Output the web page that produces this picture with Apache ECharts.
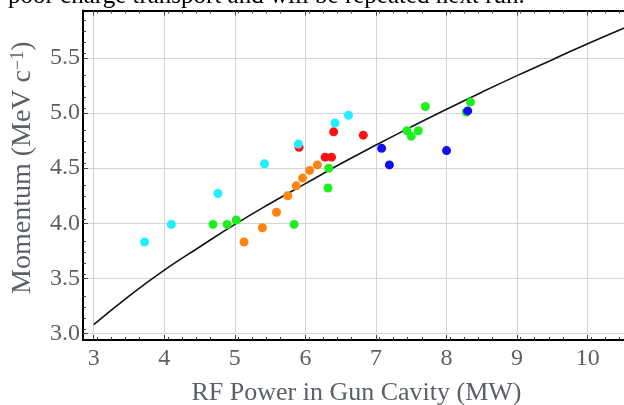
<!DOCTYPE html>
<html>
<head>
<meta charset="utf-8">
<script src="https://cdn.jsdelivr.net/npm/echarts@6/dist/echarts.min.js"></script>
<style>html,body{margin:0;padding:0;background:#fff;}#c{width:624px;height:405px;}</style>
</head>
<body>
<div id="c"></div>
<script>
// Data: [RF power (MW), momentum (MeV/c)]
var cyanPts = [[3.72,3.83],[4.10,3.99],[4.76,4.27],[5.42,4.54],[5.90,4.72],[6.42,4.91],[6.61,4.98]];
var greenPts = [[4.69,3.99],[4.89,3.99],[5.02,4.03],[5.84,3.99],[6.32,4.32],[6.33,4.50],[7.44,4.84],[7.50,4.79],[7.60,4.84],[7.70,5.06],[8.28,5.01],[8.34,5.10]];
var orangePts = [[5.13,3.83],[5.39,3.96],[5.59,4.10],[5.75,4.25],[5.87,4.34],[5.96,4.41],[6.06,4.48],[6.17,4.53]];
var redPts = [[5.91,4.69],[6.28,4.60],[6.37,4.60],[6.40,4.83],[6.82,4.80]];
var bluePts = [[7.08,4.68],[7.19,4.53],[8.00,4.66],[8.30,5.02]];
// Fit curve
var curvePts = [[3.0,3.08],[3.5,3.34],[4.0,3.575],[4.5,3.785],[5.0,3.99],[5.5,4.18],[6.0,4.36],[6.5,4.54],[7.0,4.71],[7.5,4.875],[8.0,5.035],[8.5,5.19],[9.0,5.34],[9.5,5.485],[10.0,5.63],[10.6,5.795]];
var xTicks = [3,4,5,6,7,8,9,10];
var yTicks = [3.0,3.5,4.0,4.5,5.0,5.5];
var caption = 'poor charge transport and will be repeated next run.';

var chart = echarts.init(document.getElementById('c'), null, {renderer:'canvas'});
var labelColor = '#5b6068';
var serif = '"Liberation Serif","Times New Roman",serif';
var tickStyle = {color:'#444',width:1};
var xMain = {
  type:'value', min:2.848, max:10.6, position:'bottom', interval:1,
  name:'RF Power in Gun Cavity (MW)', nameLocation:'middle', nameGap:40,
  nameTextStyle:{fontFamily:serif,fontSize:26,color:labelColor},
  axisLine:{show:true,onZero:false,lineStyle:{color:'#000',width:2}},
  axisLabel:{fontFamily:serif,fontSize:24,color:labelColor,margin:7,
    customValues:xTicks, formatter:function(v){return String(v);}},
  axisTick:{show:true,inside:true,length:5,customValues:xTicks,lineStyle:tickStyle},
  minorTick:{show:true,splitNumber:5,length:3,lineStyle:tickStyle},
  splitLine:{show:true,lineStyle:{color:'#d4d4d4',width:1}}
};
var xTop = {
  type:'value', min:2.848, max:10.6, position:'top', interval:1,
  axisLine:{show:true,onZero:false,lineStyle:{color:'#000',width:2}},
  axisLabel:{show:false},
  axisTick:{show:true,inside:true,length:5,customValues:xTicks,lineStyle:tickStyle},
  minorTick:{show:true,splitNumber:5,length:3,lineStyle:tickStyle},
  splitLine:{show:false}
};
var yMain = {
  type:'value', min:2.941, max:5.931, position:'left', interval:0.5,
  name:'{a|Momentum (MeV c}{s|−1}{a|)}', nameLocation:'middle', nameGap:46,
  nameTextStyle:{fontFamily:serif,fontSize:28,color:labelColor,padding:[0,0,0,15],
    rich:{a:{fontFamily:serif,fontSize:28,color:labelColor},
          s:{fontFamily:serif,fontSize:18,color:labelColor,verticalAlign:'bottom',padding:[0,0,10,0]}}},
  axisLine:{show:true,onZero:false,lineStyle:{color:'#000',width:2}},
  axisLabel:{fontFamily:serif,fontSize:24,color:labelColor,margin:3,
    customValues:yTicks, formatter:function(v){return v.toFixed(1);}},
  axisTick:{show:true,inside:true,length:5,customValues:yTicks,lineStyle:tickStyle},
  minorTick:{show:true,splitNumber:5,length:3,lineStyle:tickStyle},
  splitLine:{show:true,lineStyle:{color:'#d4d4d4',width:1}}
};

function sc(name,data,color,z){
  return {name:name,type:'scatter',data:data,symbol:'circle',symbolSize:9,
    itemStyle:{color:color,opacity:1},z:z,silent:true};
}
chart.setOption({
  animation:false,
  backgroundColor:'#fff',
  grid:{left:83,top:10.5,right:-6,bottom:65,containLabel:false,outerBoundsMode:'none'},
  xAxis:[xMain,xTop],
  yAxis:[yMain],
  graphic:[{type:'text',left:8,top:-16,style:{text:caption,font:'25px "Liberation Serif", serif',fill:'#000'}}],
  series:[
    {type:'line',data:curvePts,smooth:true,showSymbol:false,lineStyle:{color:'#111',width:1.6},z:3,silent:true},
    sc('red',redPts,'#ff1010',4),
    sc('green',greenPts,'#1ef01e',5),
    sc('orange',orangePts,'#ff8410',6),
    sc('cyan',cyanPts,'#1ef0ff',7),
    sc('blue',bluePts,'#1010ee',8)
  ]
});
</script>
</body>
</html>
